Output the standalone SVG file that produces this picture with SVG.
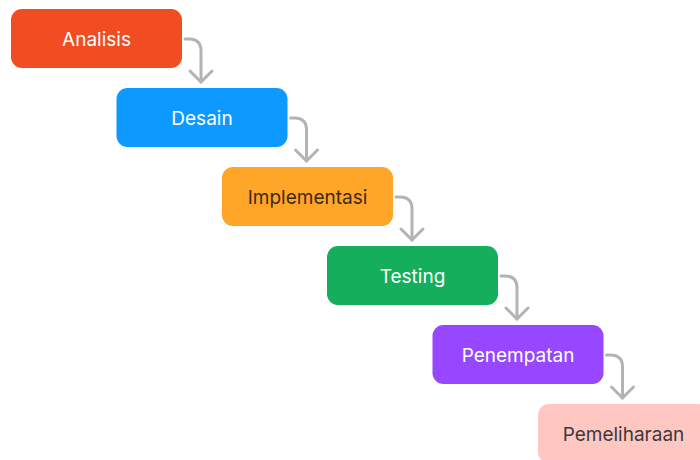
<svg xmlns="http://www.w3.org/2000/svg" width="700" height="460" viewBox="0 0 700 460">
<style>
text{font-family:Inter,"Noto Sans","Liberation Sans",sans-serif;font-size:19px;text-anchor:middle;dominant-baseline:central}
.c{fill:none;stroke:#B3B3B3;stroke-width:3;stroke-linecap:round;stroke-linejoin:round}
.w{fill:#FFFFFF}
</style>
<defs>
<marker id="ah" markerWidth="30" markerHeight="30" refX="0" refY="0" viewBox="-15 -15 30 30" orient="auto" markerUnits="userSpaceOnUse">
<path d="M-11,-11 L0,0 L-11,11" fill="none" stroke="#B3B3B3" stroke-width="3" stroke-linecap="round" stroke-linejoin="round"/>
</marker>
</defs>
<g id="connectors">
<path class="c" d="M185,39 h4 q12,0 12,12 v31" marker-end="url(#ah)"/>
<path class="c" d="M290.5,118 h4 q12,0 12,12 v31" marker-end="url(#ah)"/>
<path class="c" d="M396,197 h4 q12,0 12,12 v31" marker-end="url(#ah)"/>
<path class="c" d="M501,276 h4 q12,0 12,12 v31" marker-end="url(#ah)"/>
<path class="c" d="M606.5,355 h4 q12,0 12,12 v31" marker-end="url(#ah)"/>
</g>
<g id="analisis"><rect x="11" y="9" width="171" height="59" rx="11" fill="#F24C22"/><text class="w" x="96.5" y="39">Analisis</text></g>
<g id="desain"><rect x="116.5" y="88" width="171" height="59" rx="11" fill="#0D99FF"/><text class="w" x="202" y="118">Desain</text></g>
<g id="implementasi"><rect x="222" y="167" width="171" height="59" rx="11" fill="#FFA629"/><text x="307.5" y="197" fill="#3B2A14">Implementasi</text></g>
<g id="testing"><rect x="327" y="246" width="171" height="59" rx="11" fill="#14AE5C"/><text class="w" x="412.5" y="276">Testing</text></g>
<g id="penempatan"><rect x="432.5" y="325" width="171" height="59" rx="11" fill="#9747FF"/><text class="w" x="518" y="355">Penempatan</text></g>
<g id="pemeliharaan"><rect x="538" y="404" width="171" height="59" rx="11" fill="#FFC7C2"/><text x="623.5" y="434" fill="#3A3A3A">Pemeliharaan</text></g>
</svg>
